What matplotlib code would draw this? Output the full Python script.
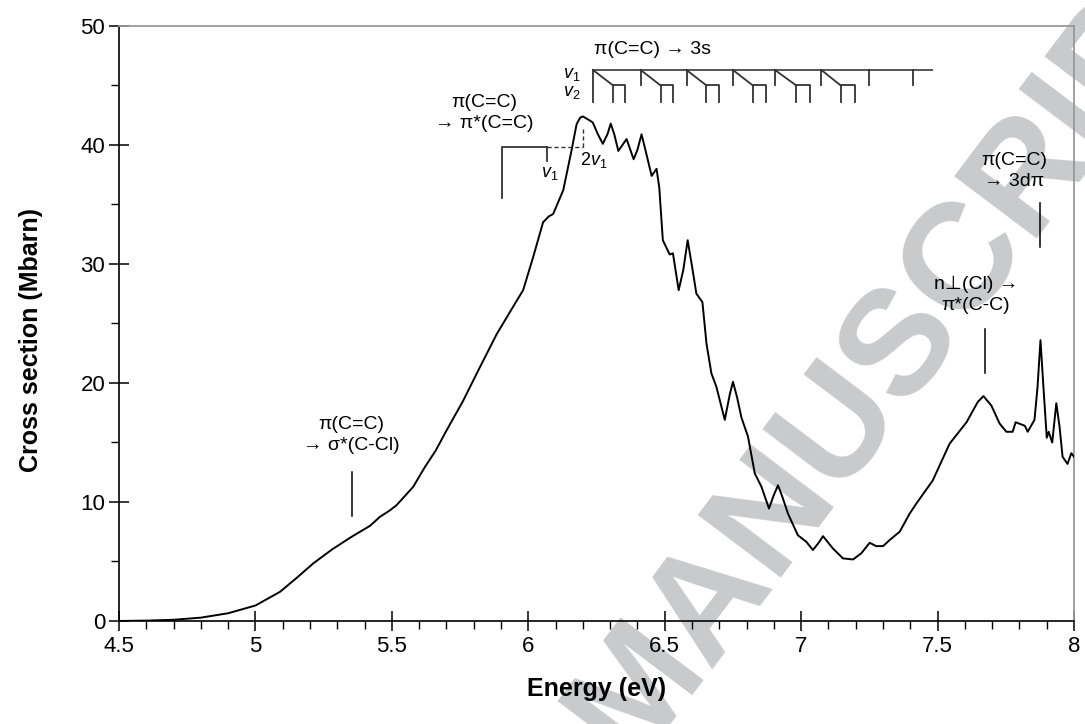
import numpy as np
import matplotlib
matplotlib.use("Agg")
import matplotlib.pyplot as plt
from matplotlib.ticker import MultipleLocator

plt.rcParams['font.family'] = ['Liberation Sans', 'DejaVu Sans']
plt.rcParams['mathtext.fontset'] = 'custom'
plt.rcParams['mathtext.rm'] = 'Liberation Sans'
plt.rcParams['mathtext.it'] = 'Liberation Sans:italic'

# spectrum (eV, Mbarn)
energy = [4.50, 4.60, 4.70, 4.80, 4.90, 5.00, 5.09, 5.15, 5.212, 5.28, 5.352, 5.42,
          5.456, 5.493, 5.517, 5.578, 5.62, 5.66, 5.70, 5.761, 5.822, 5.884, 5.944,
          5.981, 6.018, 6.054, 6.075, 6.091, 6.128, 6.158, 6.177, 6.19, 6.20, 6.215,
          6.236, 6.255, 6.273, 6.29, 6.302, 6.315, 6.33, 6.36, 6.386, 6.40, 6.415,
          6.43, 6.452, 6.47, 6.48, 6.493, 6.518, 6.53, 6.551, 6.568, 6.584, 6.60,
          6.616, 6.638, 6.653, 6.671, 6.689, 6.72, 6.738, 6.75, 6.765, 6.781, 6.805,
          6.83, 6.854, 6.882, 6.90, 6.915, 6.93, 6.952, 6.988, 7.019, 7.043, 7.065,
          7.08, 7.095, 7.116, 7.153, 7.19, 7.22, 7.251, 7.275, 7.30, 7.324, 7.361,
          7.397, 7.423, 7.482, 7.544, 7.606, 7.647, 7.668, 7.697, 7.727, 7.752,
          7.775, 7.786, 7.82, 7.83, 7.855, 7.866, 7.877, 7.888, 7.90, 7.907, 7.92,
          7.935, 7.947, 7.958, 7.976, 7.99, 8.00]
sigma = [0.0, 0.03, 0.1, 0.28, 0.65, 1.3, 2.45, 3.6, 4.84, 6.0, 7.07, 8.0,
         8.75, 9.3, 9.73, 11.27, 12.9, 14.3, 16.0, 18.5, 21.3, 24.1, 26.4,
         27.8, 30.6, 33.5, 34.0, 34.2, 36.2, 39.5, 41.75, 42.3, 42.4, 42.2,
         41.9, 40.9, 40.1, 40.9, 41.8, 40.9, 39.5, 40.5, 38.8, 39.6, 40.9,
         39.5, 37.4, 38.0, 36.4, 32.0, 30.8, 30.9, 27.8, 29.5, 32.0, 29.8,
         27.5, 26.8, 23.3, 20.8, 19.7, 16.9, 19.0, 20.1, 18.8, 17.1, 15.5,
         12.4, 11.3, 9.45, 10.6, 11.4, 10.5, 9.0, 7.2, 6.65, 5.96, 6.6,
         7.13, 6.7, 6.1, 5.26, 5.17, 5.68, 6.57, 6.29, 6.29, 6.8, 7.5,
         9.0, 9.9, 11.8, 14.9, 16.7, 18.4, 18.9, 18.1, 16.6, 15.9,
         15.9, 16.7, 16.4, 15.9, 16.9, 19.6, 23.6, 19.6, 15.4, 15.9, 15.0,
         18.3, 16.3, 13.8, 13.2, 14.1, 13.8]

# pi(C=C) -> 3s progression markers (eV)
v1_pos = [6.237, 6.412, 6.580, 6.750, 6.904, 7.074, 7.248, 7.409]
v2_start = [6.311, 6.485, 6.653, 6.823, 6.982, 7.145]
v2_end = [6.356, 6.530, 6.698, 6.872, 7.031, 7.196]
ladder_end = 7.478

# pi -> pi* vibrational markers (eV)
pistar_origin = 5.904
pistar_v1 = 6.067
pistar_2v1 = 6.199

# single-line assignments: (energy, y_low, y_high)
marks = [(5.352, 8.8, 12.5), (7.672, 20.8, 24.5), (7.875, 31.4, 35.1)]

fig = plt.figure(figsize=(10.85, 7.24), dpi=100)
ax = fig.add_axes([0.1097, 0.1423, 0.8802, 0.8218])

ax.plot(energy, sigma, color='black', lw=1.4, zorder=3)

# watermark
ax.text(0.83, 0.53, 'MANUSCRIPT', transform=fig.transFigure, rotation=53,
        rotation_mode='anchor', ha='center', va='center', fontsize=108,
        fontweight='bold', color='#c9cacc', zorder=0, clip_on=False)

# ladder for 3s
lc = '#333333'
top, mid, bot = 46.3, 45.0, 43.6
ax.plot([v1_pos[0], ladder_end], [top, top], color='#555555', lw=1.4, clip_on=False)
for i, e in enumerate(v1_pos):
    ax.plot([e, e], [top, bot if i == 0 else mid], color=lc, lw=1.3)
for e, a, b in zip(v1_pos, v2_start, v2_end):
    ax.plot([e, a], [top, mid], color=lc, lw=1.3)
    ax.plot([a, a, b, b], [bot, mid, mid, bot], color=lc, lw=1.3)
ax.text(6.16, top - 0.35, '$v_1$', fontsize=13, ha='center', va='center')
ax.text(6.16, mid - 0.6, '$v_2$', fontsize=13, ha='center', va='center')
ax.text(6.454, 47.3, 'π(C=C) → 3s', fontsize=14, ha='center', va='bottom')

# pi* bracket
ax.plot([pistar_origin, pistar_origin, pistar_v1], [35.55, 39.85, 39.85], color=lc, lw=1.3)
ax.plot([pistar_v1, pistar_v1], [39.85, 38.67], color=lc, lw=1.3)
ax.plot([pistar_v1, pistar_2v1], [39.85, 39.85], color=lc, lw=1, ls=(0, (3, 2)))
ax.plot([pistar_2v1, pistar_2v1], [39.85, 41.5], color=lc, lw=1, ls=(0, (3, 2)))
ax.text(pistar_v1 + 0.01, 37.6, '$v_1$', fontsize=13, ha='center', va='center')
ax.text(pistar_2v1 + 0.04, 38.7, '$2v_1$', fontsize=13, ha='center', va='center')
ax.text(5.837, 41.1, 'π(C=C)\n→ π*(C=C)', fontsize=14, ha='center', va='bottom',
        linespacing=1.3)

for e, y0, y1 in marks:
    ax.plot([e, e], [y0, y1], color='black', lw=1.1)
ax.text(5.352, 14.0, 'π(C=C)\n→ σ*(C-Cl)', fontsize=14, ha='center', va='bottom',
        linespacing=1.3)
ax.text(7.64, 25.8, 'n⊥(Cl) →\nπ*(C-C)', fontsize=14, ha='center', va='bottom',
        linespacing=1.3)
ax.text(7.782, 36.2, 'π(C=C)\n→ 3dπ', fontsize=14, ha='center', va='bottom',
        linespacing=1.3)

ax.set_xlim(4.5, 8.0)
ax.set_ylim(0, 50)
ax.set_xticks([4.5, 5.0, 5.5, 6.0, 6.5, 7.0, 7.5, 8.0])
ax.set_xticklabels(['4.5', '5', '5.5', '6', '6.5', '7', '7.5', '8'])
ax.xaxis.set_minor_locator(MultipleLocator(0.1))
ax.yaxis.set_major_locator(MultipleLocator(10))
ax.yaxis.set_minor_locator(MultipleLocator(5))
ax.tick_params(which='major', direction='inout', length=14, width=1.1, labelsize=16)
ax.tick_params(which='minor', direction='out', length=6, width=1.0)
ax.tick_params(axis='x', which='major', pad=4)
ax.tick_params(axis='y', which='major', pad=3)

for s in ['left', 'bottom']:
    ax.spines[s].set_color('black')
    ax.spines[s].set_linewidth(1.2)
for s in ['top', 'right']:
    ax.spines[s].set_color('#999999')
    ax.spines[s].set_linewidth(1.3)

ax.set_xlabel('Energy (eV)', fontsize=18, fontweight='bold')
ax.set_ylabel('Cross section (Mbarn)', fontsize=18, fontweight='bold')
ax.xaxis.set_label_coords(0.5, -0.095)
ax.yaxis.set_label_coords(-0.08, 0.472)

fig.savefig('out.png', dpi=100)
